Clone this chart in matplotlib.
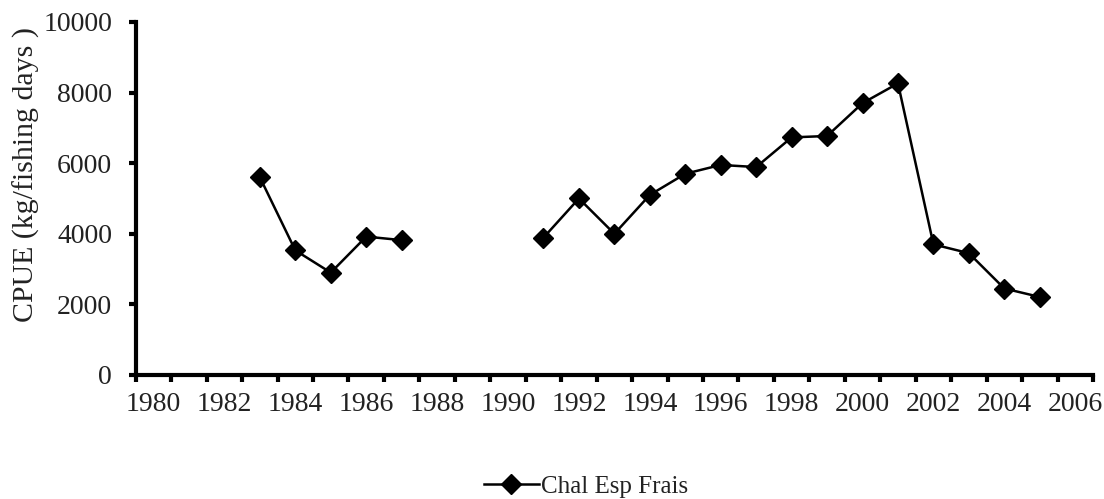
import numpy as np
import matplotlib
matplotlib.use("Agg")
import matplotlib.pyplot as plt
from matplotlib.ticker import MultipleLocator

plt.rcParams['font.family'] = ['Liberation Serif', 'DejaVu Serif']

# data (gap 1988-1990)
years = list(range(1983, 2006))
cpue = [5600, 3530, 2900, 3920, 3820,
        np.nan, np.nan, np.nan,
        3890, 5000, 4000, 5100, 5700, 5950, 5890, 6730, 6770, 7700, 8260,
        3700, 3450, 2450, 2210]
series_name = "Chal Esp Frais"
ylabel = "CPUE (kg/fishing days )"

fig = plt.figure(figsize=(11.04, 4.99), dpi=100)
ax = fig.add_axes([0.123, 0.2485, 0.867, 0.7075])

ax.plot(years, cpue, color="black", lw=1.8, marker="D", markersize=10,
        label=series_name)

ax.set_xlim(1979.5, 2006.5)
ax.set_ylim(0, 10000)
ax.set_xticks(range(1980, 2007, 2))
ax.xaxis.set_minor_locator(MultipleLocator(1, offset=0.5))
ax.set_yticks(range(0, 10001, 2000))

for s in ["top", "right"]:
    ax.spines[s].set_visible(False)
for s in ["left", "bottom"]:
    ax.spines[s].set_linewidth(3)

ax.tick_params(axis="x", which="major", length=0, pad=12, labelsize=20,
               labelcolor="#222222")
ax.tick_params(axis="x", which="minor", direction="out", length=5, width=3)
ax.tick_params(axis="y", which="major", direction="out", length=5, width=3,
               pad=12, labelsize=20, labelcolor="#222222")

ax.set_ylabel(ylabel, fontsize=21.5, color="#222222")
ax.yaxis.set_label_coords(-0.1, 0.567)

fig.legend(loc="center", bbox_to_anchor=(0.531, 0.025), frameon=False,
           fontsize=18, handlelength=2.2, handletextpad=0.1,
           labelcolor="#222222")

fig.savefig("out.png", dpi=100)
